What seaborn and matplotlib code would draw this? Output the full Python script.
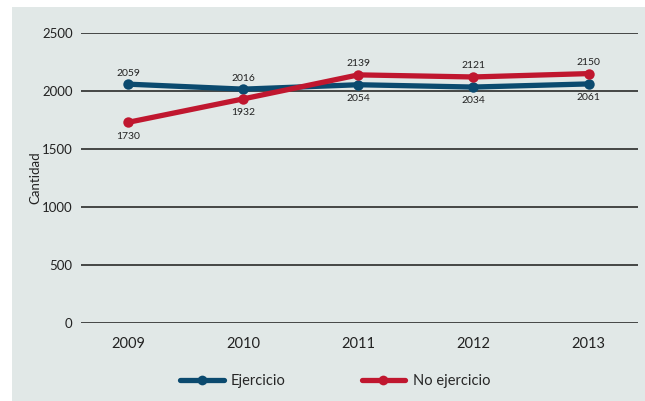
import numpy as np
import pandas as pd
import matplotlib.pyplot as plt
import seaborn as sns
from matplotlib.patches import Rectangle

years = ['2009', '2010', '2011', '2012', '2013']
ejercicio = [2059, 2016, 2054, 2034, 2061]
no_ejercicio = [1730, 1932, 2139, 2121, 2150]
series_names = ['Ejercicio', 'No ejercicio']
colors = ['#0b4a6f', '#c0172f']

df = pd.DataFrame({
    'year': years * 2,
    'value': ejercicio + no_ejercicio,
    'serie': [series_names[0]] * 5 + [series_names[1]] * 5,
})

sns.set_style('white')
plt.rcParams['font.family'] = ['Lato', 'DejaVu Sans']

bg = '#e1e8e7'
fig = plt.figure(figsize=(6.45, 4.01), dpi=100)
fig.patch.set_facecolor('white')
fig.patches.append(Rectangle((12 / 645, 0), 1, 1 - 7 / 401, transform=fig.transFigure,
                             facecolor=bg, edgecolor='none', zorder=-10))
ax = fig.add_axes([81 / 645, 1 - 323 / 401, (638 - 81) / 645, (323 - 33) / 401])
ax.set_facecolor(bg)
ax.patch.set_alpha(0)

x = np.arange(len(years))
df['x'] = df['year'].map({y: i for i, y in enumerate(years)})

sns.lineplot(data=df, x='x', y='value', hue='serie', palette=colors, marker='o',
             markersize=7.5, markeredgewidth=0, linewidth=3.8, ax=ax, zorder=3)

ax.set_ylim(0, 2500)
ax.set_xlim(-0.41, 4.43)
ax.set_yticks([0, 500, 1000, 1500, 2000, 2500])
ax.yaxis.grid(True, color='#1a1a1a', linewidth=1.1)
ax.set_axisbelow(True)
ax.set_xticks(x)
ax.set_xticklabels(years)
ax.tick_params(axis='x', length=0, pad=10, labelsize=10.5, colors='#222222')
ax.tick_params(axis='y', length=0, pad=6, labelsize=9.5, colors='#222222')
for s in ax.spines.values():
    s.set_visible(False)
ax.set_xlabel('')
ax.set_ylabel('Cantidad', fontsize=9.5, color='#222222', labelpad=0.5)

# value labels
blue_above = [True, True, False, False, False]
for i in range(5):
    off_b = 8 if blue_above[i] else -10
    off_r = -10 if blue_above[i] else 8
    ax.annotate(str(ejercicio[i]), (i, ejercicio[i]), xytext=(0, off_b), textcoords='offset points',
                ha='center', va='center', fontsize=7.5, color='#222222')
    ax.annotate(str(no_ejercicio[i]), (i, no_ejercicio[i]), xytext=(0, off_r), textcoords='offset points',
                ha='center', va='center', fontsize=7.5, color='#222222')

leg = ax.legend(loc='center', bbox_to_anchor=(0.456, -0.2), ncol=2, frameon=False,
                fontsize=10.5, handlelength=3.0, columnspacing=5.2, handletextpad=0.5)
for line in leg.get_lines():
    line.set_linewidth(3.8)
    line.set_markersize(7)

fig.savefig('out.png', dpi=100, facecolor=fig.get_facecolor())
